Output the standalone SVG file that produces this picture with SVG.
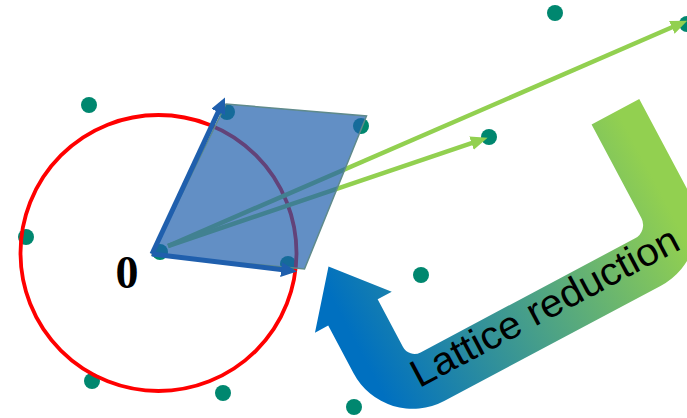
<svg xmlns="http://www.w3.org/2000/svg" width="687" height="418" viewBox="0 0 687 418">
  <defs>
    <style>
      .dot { fill: #00876F; }
      .blue-vec { stroke: #1F5FAD; stroke-width: 5; fill: none; marker-end: url(#headBlue); }
      .green-vec { stroke: #92D050; stroke-width: 4.5; fill: none; marker-end: url(#headGreen); }
      .label0 { font-family: "Liberation Serif", "Times New Roman", serif; font-weight: bold; font-size: 46px; fill: #000; }
      .lr { font-family: "Liberation Sans", Arial, sans-serif; font-size: 39px; fill: #000; }
    </style>
    <marker id="headBlue" markerUnits="userSpaceOnUse" markerWidth="18" markerHeight="16" refX="4" refY="7.5" orient="auto">
      <path d="M0,0 L16,7.5 L0,15 Z" fill="#1F5FAD"/>
    </marker>
    <marker id="headGreen" markerUnits="userSpaceOnUse" markerWidth="18" markerHeight="15" refX="4" refY="7" orient="auto">
      <path d="M0,0 L17,7 L0,14 Z" fill="#92D050"/>
    </marker>
    <linearGradient id="lrGrad" gradientUnits="userSpaceOnUse" x1="-40" y1="0" x2="300" y2="0">
      <stop offset="0" stop-color="#0070C0"/>
      <stop offset="1" stop-color="#92D050"/>
    </linearGradient>
  </defs>

  <g id="lattice-points">
    <circle class="dot" cx="89" cy="105" r="8"/>
    <circle class="dot" cx="26" cy="237" r="8"/>
    <circle class="dot" cx="555" cy="13" r="8"/>
    <circle class="dot" cx="687" cy="24" r="8"/>
    <circle class="dot" cx="489" cy="137" r="8"/>
    <circle class="dot" cx="421" cy="275" r="8"/>
    <circle class="dot" cx="92" cy="381" r="8"/>
    <circle class="dot" cx="223" cy="393" r="8"/>
    <circle class="dot" cx="354" cy="407" r="8"/>
    <circle class="dot" cx="227" cy="112" r="8"/>
    <circle class="dot" cx="361" cy="126" r="8"/>
    <circle class="dot" cx="160" cy="252" r="8"/>
    <circle class="dot" cx="288" cy="264" r="8"/>
  </g>

  <g id="ball">
    <circle cx="158.5" cy="253" r="138" fill="none" stroke="#FF0000" stroke-width="3.8"/>
  </g>

  <g id="connectors">
    <line class="green-vec" x1="168" y1="246" x2="675.5" y2="25.8"/>
    <line class="green-vec" x1="168" y1="246" x2="475.3" y2="141.9"/>
  </g>

  <g id="basis-cell">
    <polygon points="152,255 226,104 366.5,116 304.5,269" fill="#1F5FAD" fill-opacity="0.7" stroke="#5F8A8B" stroke-width="1.5"/>
  </g>

  <g id="basis-vectors">
    <line class="blue-vec" x1="152" y1="254" x2="219.9" y2="108.4"/>
    <line class="blue-vec" x1="152" y1="254" x2="285.1" y2="270.1"/>
  </g>

  <g id="origin-label">
    <text class="label0" x="127" y="288" text-anchor="middle">0</text>
  </g>

  <g id="lattice-reduction-arrow" transform="translate(403,347) rotate(-28)">
    <path d="M325,-108 L271,-108 L271,-2 A15,15 0 0 1 256,13 L13,13 A13,13 0 0 1 0,0 L0,-54 L16,-54 L-28,-106 L-71,-54 L-56,-54 L-56,0 A67,67 0 0 0 11,67 L256,67 A69,69 0 0 0 325,-2 Z" fill="url(#lrGrad)"/>
    <text class="lr" x="-5" y="44" textLength="298" lengthAdjust="spacingAndGlyphs">Lattice reduction</text>
  </g>
</svg>
